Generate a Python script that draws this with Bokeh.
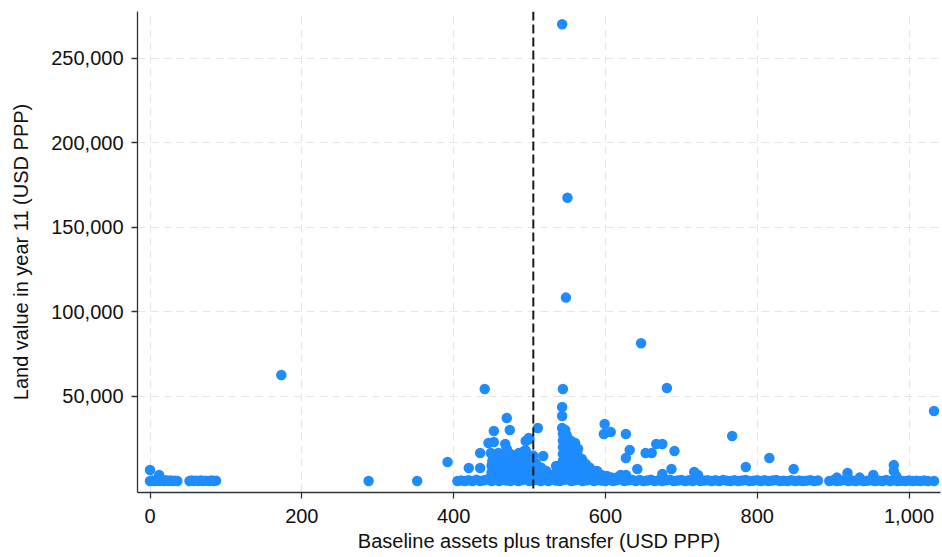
from bokeh.plotting import figure
from bokeh.models import Range1d, FixedTicker, NumeralTickFormatter, Span, ColumnDataSource
from bokeh.embed import file_html
from bokeh.resources import INLINE

# ---- data ----
x_ticks = [0, 200, 400, 600, 800, 1000]
y_ticks = [50000, 100000, 150000, 200000, 250000]
threshold = 505

# scattered / outlying households
out_x = [173, 543, 550, 548, 647, 544, 681, 441, 1033, 0, 12,
         392, 420, 435, 435, 470, 474, 453, 453, 446, 468, 449, 459, 463, 451, 458,
         486, 493, 495, 499, 511, 500,
         543, 543, 543, 547, 518, 508, 522, 535, 545,
         599, 598, 607, 627, 632, 627, 642, 560, 563, 570, 576, 589, 595, 620, 627,
         653, 661, 667, 675, 691, 687, 675, 717, 722, 767, 785, 816, 848, 919, 953,
         980, 980, 983, 905, 935]
out_y = [62600, 270000, 167400, 108400, 81400, 54400, 55000, 54400, 41400, 6500, 3500,
         11200, 7700, 7700, 16500, 37200, 30100, 29500, 23000, 22500, 21900, 16500, 16500, 14800, 11800, 11800,
         16500, 17700, 23600, 25400, 31300, 24800,
         43700, 38400, 31300, 30100, 14800, 10600, 5900, 8900, 11800,
         33700, 27800, 29000, 27800, 18300, 13600, 7100, 22500, 16000, 11800, 7100, 5900, 3500, 3500, 3500,
         16500, 16500, 21900, 21900, 17700, 7100, 4100, 5300, 3500, 26600, 8300, 13600, 7100, 4700, 3500,
         9400, 5900, 3000, 2000, 2000]

# dense cluster around the threshold
dense_x = [450, 450, 450, 455, 455, 455, 460, 460, 460, 460, 465, 465, 465,
           470, 470, 470, 470, 470, 475, 475, 475, 475, 480, 480, 480, 480,
           485, 485, 485, 485, 490, 490, 490, 490, 495, 495, 495, 495, 495,
           500, 500, 500, 500, 505, 505, 505, 505, 510, 510, 510, 515, 515, 515,
           520, 520, 525, 525, 530, 535, 535, 540, 540, 540,
           544, 544, 544, 544, 544, 544, 544, 549, 549, 549, 549, 549, 549, 549,
           554, 554, 554, 554, 554, 559, 559, 559, 559, 559, 564, 564, 564, 564, 564,
           569, 569, 569, 574, 574, 574, 579, 579, 579, 584, 584, 590, 590,
           596, 602, 608, 615, 622]
dense_y = [2000, 5000, 9000, 3000, 7000, 12000, 2000, 6000, 10000, 14000, 4000, 8000, 12000,
           2000, 6000, 10000, 15000, 19000, 4000, 8000, 12000, 16000, 3000, 7000, 11000, 14000,
           2000, 5000, 9000, 13000, 4000, 8000, 12000, 15000, 3000, 6000, 10000, 14000, 18000,
           2000, 5000, 9000, 13000, 4000, 7000, 11000, 15000, 3000, 6000, 9000, 2000, 5000, 8000,
           3000, 6000, 2000, 4000, 3000, 2000, 5000, 3000, 6000, 9000,
           4000, 8000, 12000, 16000, 20000, 24000, 28000, 3000, 7000, 11000, 15000, 19000, 23000, 27000,
           4000, 9000, 14000, 19000, 24000, 3000, 7000, 12000, 17000, 21000, 2000, 6000, 10000, 14000, 19000,
           4000, 8000, 13000, 3000, 6000, 10000, 2000, 5000, 8000, 3000, 6000, 2000, 4000,
           2000, 3000, 2000, 2000, 2500]

# households with (near) zero land value
strip_x = [0, 3, 6, 9, 12, 15, 18, 21, 24, 27, 30, 33, 36,
           52, 55, 58, 61, 64, 67, 70, 73, 78, 81, 84, 87, 288, 352,
           405, 410, 415, 420, 425, 430, 435, 440, 445, 450, 455, 460, 465, 470, 475, 480,
           485, 490, 495, 500, 505, 510, 515, 520, 525, 530, 535, 540, 545, 550, 555, 560,
           565, 570, 575, 580, 585, 590, 595, 600, 605, 610, 615, 620, 625, 630, 635, 640,
           645, 650, 655, 660, 665, 670, 675, 680, 685, 690, 695, 700, 705, 710, 715, 720,
           725, 730, 735, 740, 745, 750, 755, 760, 765, 770, 775, 780, 785, 790, 795, 800,
           805, 810, 815, 820, 825, 830, 835, 840, 845, 850, 855, 860, 865, 870, 875, 880,
           895, 900, 905, 910, 915, 920, 925, 930, 935, 940, 945, 950, 955, 960, 965, 970,
           975, 980, 985, 990, 995, 1000, 1005, 1010, 1015, 1020, 1025, 1033]
strip_y = [0, 300, 0, 500, 0, 200, 0, 400, 0, 300, 0, 200, 0,
           0, 300, 0, 200, 0, 300, 0, 200, 0, 300, 0, 200, 0, 0,
           0, 300, 0, 500, 0, 800, 0, 400, 1000, 0, 600, 0, 900, 300, 0, 700,
           0, 500, 1000, 0, 400, 800, 0, 600, 0, 900, 300, 0, 700, 1000, 0, 500,
           800, 0, 400, 900, 0, 600, 300, 0, 800, 0, 500, 1000, 0, 400, 700, 0,
           600, 0, 300, 800, 0, 500, 0, 400, 700, 0, 300, 600, 0, 400, 0, 700,
           0, 300, 500, 0, 400, 0, 600, 200, 0, 500, 0, 300, 600, 0, 200, 500,
           0, 400, 0, 300, 600, 0, 200, 0, 500, 0, 300, 0, 200, 500, 0, 300,
           0, 400, 0, 200, 600, 0, 300, 0, 500, 0, 200, 400, 0, 300, 0, 600,
           0, 400, 0, 200, 0, 300, 0, 200, 0, 300, 0, 0]

xs = out_x + dense_x + strip_x
ys = out_y + dense_y + strip_y
source = ColumnDataSource(data=dict(x=xs, y=ys))

FONT = "Liberation Sans"

p = figure(width=942, height=557, output_backend="svg", toolbar_location=None,
           x_range=Range1d(-16.5, 1041.5), y_range=Range1d(-6800, 277500),
           min_border_left=137, min_border_right=2, min_border_top=11, min_border_bottom=65,
           x_axis_label="Baseline assets plus transfer (USD PPP)",
           y_axis_label="Land value in year 11 (USD PPP)")
p.outline_line_color = None
p.background_fill_color = "white"

p.scatter("x", "y", source=source, size=10.5, fill_color="#1e8cff", line_color=None)

p.add_layout(Span(location=threshold, dimension="height", line_color="#1a1a1a",
                  line_width=2, line_dash="9 4"))

p.xaxis.ticker = FixedTicker(ticks=x_ticks)
p.yaxis.ticker = FixedTicker(ticks=y_ticks)
p.xaxis.formatter = NumeralTickFormatter(format="0,0")
p.yaxis.formatter = NumeralTickFormatter(format="0,0")

p.grid.grid_line_color = "#e6e6e6"
p.grid.grid_line_width = 1.2
p.grid.grid_line_dash = "8 5"

for ax in (p.xaxis[0], p.yaxis[0]):
    ax.axis_line_color = "#333333"
    ax.axis_line_width = 1.3
    ax.major_tick_line_color = "#333333"
    ax.major_tick_line_width = 1.3
    ax.major_tick_out = 6
    ax.major_tick_in = 0
    ax.minor_tick_out = 0
    ax.minor_tick_in = 0
    ax.major_label_text_font = FONT
    ax.major_label_text_font_size = "20px"
    ax.major_label_text_color = "#111111"
    ax.axis_label_text_font = FONT
    ax.axis_label_text_font_size = "20px"
    ax.axis_label_text_font_style = "normal"
    ax.axis_label_text_color = "#111111"

p.xaxis.major_label_standoff = 10
p.xaxis.axis_label_standoff = 4
p.yaxis.major_label_standoff = 8
p.yaxis.axis_label_standoff = 16

open("out.html", "w").write(file_html(p, INLINE))
